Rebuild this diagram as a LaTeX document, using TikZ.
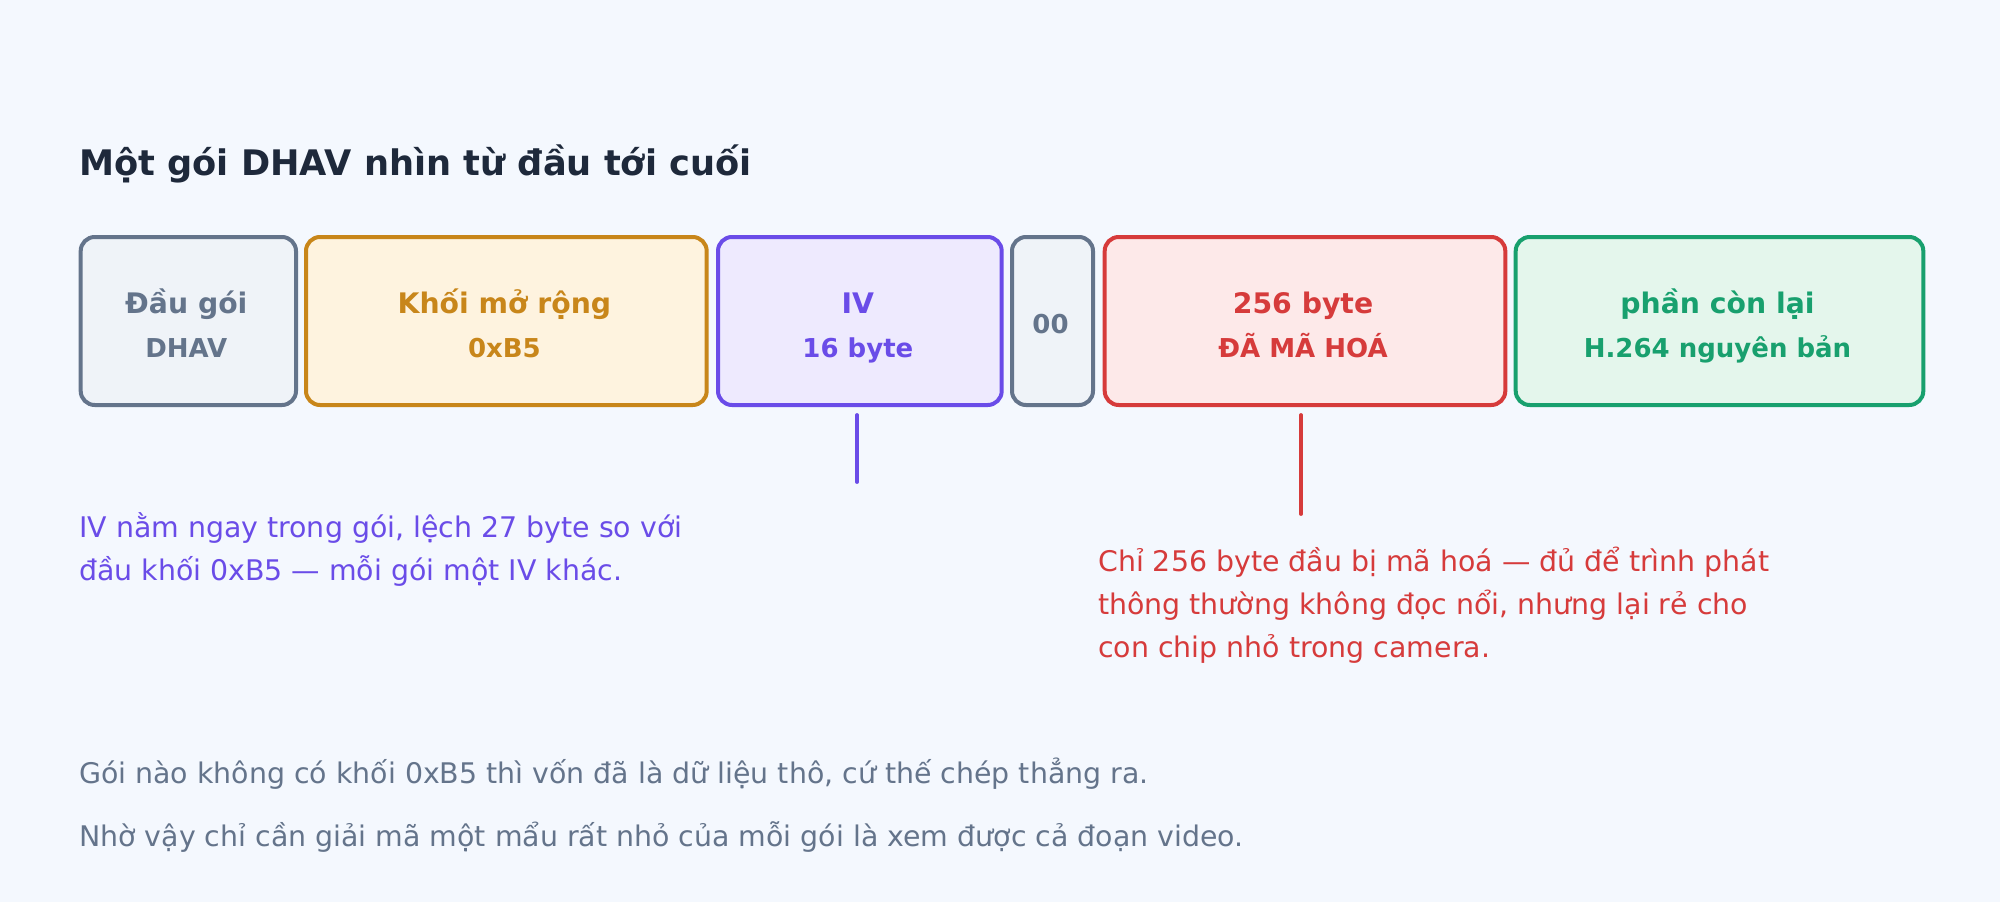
\documentclass[tikz,border=0pt]{standalone}
\usepackage{fontspec}
\setmainfont{DejaVu Sans}
\definecolor{bg}{HTML}{F4F8FE}
\definecolor{titlec}{HTML}{1E293B}
\definecolor{grayc}{HTML}{64748B}
\definecolor{grayf}{HTML}{EFF3F8}
\definecolor{orangec}{HTML}{C8861A}
\definecolor{orangef}{HTML}{FEF3DF}
\definecolor{purplec}{HTML}{6A4CE8}
\definecolor{purplef}{HTML}{EEEAFE}
\definecolor{redc}{HTML}{D63B3B}
\definecolor{redf}{HTML}{FDE9E9}
\definecolor{greenc}{HTML}{18A06E}
\definecolor{greenf}{HTML}{E4F6EC}
\tikzset{
  fieldbox/.style={draw, line width=4pt, rounded corners=14pt, anchor=north west, inner sep=0pt, minimum height=168pt},
  lineone/.style={anchor=base, font=\fontsize{28.3}{32}\selectfont\bfseries, inner sep=0pt},
  linetwo/.style={anchor=base, font=\fontsize{26}{30}\selectfont\bfseries, inner sep=0pt},
  notetext/.style={anchor=base west, font=\fontsize{28.4}{32}\selectfont, inner sep=0pt},
  tick/.style={line width=3.8pt, line cap=round}
}
\begin{document}
\begin{tikzpicture}[x=1pt,y=-1pt]
\fill[bg] (0,0) rectangle (2000,902);
\useasboundingbox (0,0) rectangle (2000,902);
\node[anchor=base west, inner sep=0pt, text=titlec, font=\fontsize{35.2}{40}\selectfont\bfseries] (title) at (79,175) {Một gói DHAV nhìn từ đầu tới cuối};
% boxes
\node[fieldbox, draw=grayc, fill=grayf, minimum width=215.3pt] (hdr) at (78.7,235) {};
\node[fieldbox, draw=orangec, fill=orangef, minimum width=400.7pt] (ext) at (304,235) {};
\node[fieldbox, draw=purplec, fill=purplef, minimum width=283.7pt] (iv) at (716,235) {};
\node[fieldbox, draw=grayc, fill=grayf, minimum width=81pt] (zz) at (1010,235) {};
\node[fieldbox, draw=redc, fill=redf, minimum width=400.6pt] (enc) at (1102.7,235) {};
\node[fieldbox, draw=greenc, fill=greenf, minimum width=407.6pt] (rest) at (1513.7,235) {};
% box labels
\node[lineone, text=grayc] (hdr1) at (186.3,313) {Đầu gói};
\node[linetwo, text=grayc] (hdr2) at (186.3,357) {DHAV};
\node[lineone, text=orangec] (ext1) at (504.4,313) {Khối mở rộng};
\node[linetwo, text=orangec] (ext2) at (504.4,357) {0xB5};
\node[lineone, text=purplec] (iv1) at (857.9,313) {IV};
\node[linetwo, text=purplec] (iv2) at (857.9,357) {16 byte};
\node[linetwo, text=grayc] (zz1) at (1050.5,333) {00};
\node[lineone, text=redc] (enc1) at (1303,313) {256 byte};
\node[linetwo, text=redc] (enc2) at (1303,357) {ĐÃ MÃ HOÁ};
\node[lineone, text=greenc] (rest1) at (1717.5,313) {phần còn lại};
\node[linetwo, text=greenc] (rest2) at (1717.5,357) {H.264 nguyên bản};
% ticks
\coordinate (ivtop) at (857,415);
\coordinate (ivend) at (857,482);
\coordinate (enctop) at (1301,415);
\coordinate (encend) at (1301,514);
\draw[tick, draw=purplec] (ivtop) -- (ivend);
\draw[tick, draw=redc] (enctop) -- (encend);
% notes
\node[notetext, text=purplec] (ivn1) at (79,537) {IV nằm ngay trong gói, lệch 27 byte so với};
\node[notetext, text=purplec] (ivn2) at (79,580) {đầu khối 0xB5 — mỗi gói một IV khác.};
\node[notetext, text=redc] (encn1) at (1098,571) {Chỉ 256 byte đầu bị mã hoá — đủ để trình phát};
\node[notetext, text=redc] (encn2) at (1098,614) {thông thường không đọc nổi, nhưng lại rẻ cho};
\node[notetext, text=redc] (encn3) at (1098,657) {con chip nhỏ trong camera.};
\node[notetext, text=grayc] (foot1) at (79,783) {Gói nào không có khối 0xB5 thì vốn đã là dữ liệu thô, cứ thế chép thẳng ra.};
\node[notetext, text=grayc] (foot2) at (79,846) {Nhờ vậy chỉ cần giải mã một mẩu rất nhỏ của mỗi gói là xem được cả đoạn video.};
\end{tikzpicture}
\end{document}
